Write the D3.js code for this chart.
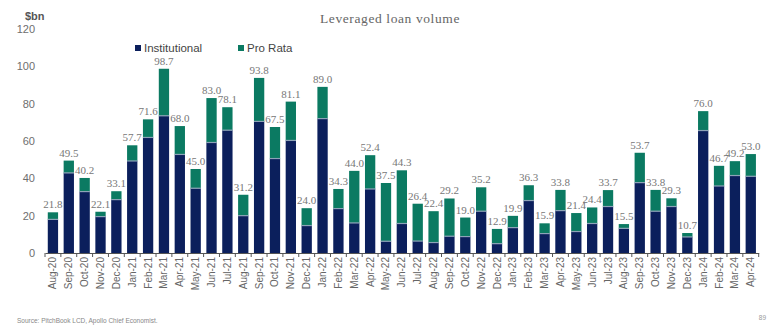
<!DOCTYPE html>
<html>
<head>
<meta charset="utf-8">
<script src="https://cdn.jsdelivr.net/npm/d3@7"></script>
<style>
    body { margin: 0; background: #ffffff; }
    svg { display: block; }
</style>
</head>
<body>
<div id="chart"></div>
<script>
// maanden en volumes ($bn)
var months = ["Aug-20", "Sep-20", "Oct-20", "Nov-20", "Dec-20",
    "Jan-21", "Feb-21", "Mar-21", "Apr-21", "May-21", "Jun-21", "Jul-21", "Aug-21", "Sep-21", "Oct-21", "Nov-21", "Dec-21",
    "Jan-22", "Feb-22", "Mar-22", "Apr-22", "May-22", "Jun-22", "Jul-22", "Aug-22", "Sep-22", "Oct-22", "Nov-22", "Dec-22",
    "Jan-23", "Feb-23", "Mar-23", "Apr-23", "May-23", "Jun-23", "Jul-23", "Aug-23", "Sep-23", "Oct-23", "Nov-23", "Dec-23",
    "Jan-24", "Feb-24", "Mar-24", "Apr-24"];

var totals = [21.8, 49.5, 40.2, 22.1, 33.1,
    57.7, 71.6, 98.7, 68.0, 45.0, 83.0, 78.1, 31.2, 93.8, 67.5, 81.1, 24.0,
    89.0, 34.3, 44.0, 52.4, 37.5, 44.3, 26.4, 22.4, 29.2, 19.0, 35.2, 12.9,
    19.9, 36.3, 15.9, 33.8, 21.4, 24.4, 33.7, 15.5, 53.7, 33.8, 29.3, 10.7,
    76.0, 46.7, 49.2, 53.0];

var institutional = [18.0, 42.9, 32.9, 19.5, 28.6,
    49.3, 61.9, 73.5, 52.8, 34.7, 59.2, 65.8, 20.0, 70.5, 50.6, 60.3, 14.7,
    72.0, 23.8, 16.1, 34.3, 6.3, 15.8, 6.4, 5.6, 9.0, 8.8, 22.4, 5.0,
    13.6, 28.1, 10.4, 22.7, 11.5, 15.8, 24.9, 13.2, 37.7, 22.4, 24.9, 8.6,
    65.6, 35.9, 41.5, 41.1];

var yTicks = [0, 20, 40, 60, 80, 100, 120];

var width = 771;
var height = 331;

var navy = "#0b1f5c";
var teal = "#0b7a62";

var svg = d3.select("#chart")
    .append("svg")
    .attr("width", width)
    .attr("height", height);

var x = d3.scaleBand()
    .domain(months)
    .range([45, 758.7])
    .paddingInner(0.35)
    .paddingOuter(0.175);

var y = d3.scaleLinear()
    .domain([0, 120])
    .range([253, 29]);

// titel en eenheid
svg.append("text")
    .attr("x", 390)
    .attr("y", 23)
    .attr("text-anchor", "middle")
    .style("font-family", "Liberation Serif, Times New Roman, serif")
    .style("font-size", "13.5px")
    .style("letter-spacing", "0.6px")
    .style("fill", "#666")
    .text("Leveraged loan volume");

svg.append("text")
    .attr("x", 25)
    .attr("y", 20)
    .style("font-family", "Liberation Sans, Arial, sans-serif")
    .style("font-size", "11px")
    .style("font-weight", "bold")
    .style("fill", "#555")
    .text("$bn");

// y-as labels
svg.append("g")
    .selectAll("text")
    .data(yTicks)
    .enter()
    .append("text")
    .attr("x", 35)
    .attr("y", function (d) { return y(d) + 4; })
    .attr("text-anchor", "end")
    .style("font-family", "Liberation Sans, Arial, sans-serif")
    .style("font-size", "11px")
    .style("fill", "#6e6e6e")
    .text(function (d) { return d; });

// gestapelde staven
var bars = svg.append("g");

bars.selectAll(".inst")
    .data(months)
    .enter()
    .append("rect")
    .attr("class", "inst")
    .attr("x", function (d) { return x(d); })
    .attr("width", x.bandwidth())
    .attr("y", function (d, i) { return y(institutional[i]); })
    .attr("height", function (d, i) { return y(0) - y(institutional[i]); })
    .style("fill", navy);

bars.selectAll(".pro")
    .data(months)
    .enter()
    .append("rect")
    .attr("class", "pro")
    .attr("x", function (d) { return x(d); })
    .attr("width", x.bandwidth())
    .attr("y", function (d, i) { return y(totals[i]); })
    .attr("height", function (d, i) { return y(institutional[i]) - y(totals[i]); })
    .style("fill", teal);

// dunne scheidingslijn tussen de segmenten
bars.selectAll(".sep")
    .data(months)
    .enter()
    .append("line")
    .attr("class", "sep")
    .attr("x1", function (d) { return x(d); })
    .attr("x2", function (d) { return x(d) + x.bandwidth(); })
    .attr("y1", function (d, i) { return y(institutional[i]); })
    .attr("y2", function (d, i) { return y(institutional[i]); })
    .style("stroke", "#8da3b8")
    .style("stroke-width", 1.2);

// waardelabels boven de staven
svg.append("g")
    .selectAll("text")
    .data(months)
    .enter()
    .append("text")
    .attr("x", function (d) { return x(d) + x.bandwidth() / 2; })
    .attr("y", function (d, i) { return y(totals[i]) - 4; })
    .attr("text-anchor", "middle")
    .style("font-family", "Liberation Serif, Times New Roman, serif")
    .style("font-size", "11px")
    .style("fill", "#777")
    .text(function (d, i) { return d3.format(".1f")(totals[i]); });

// x-as
var xAxis = svg.append("g")
    .attr("transform", "translate(0," + y(0) + ")")
    .call(d3.axisBottom(x).tickSize(0).tickSizeOuter(0));

xAxis.select(".domain")
    .style("stroke", "#555");

xAxis.selectAll("text")
    .attr("transform", "rotate(-90)")
    .attr("x", -4)
    .attr("y", 0)
    .attr("dy", "0.35em")
    .style("text-anchor", "end")
    .style("font-family", "Liberation Sans, Arial, sans-serif")
    .style("font-size", "10px")
    .style("fill", "#666");

// tick streepjes tussen de maanden
var step = x.step();
var boundaries = d3.range(months.length + 1).map(function (i) {
    return x(months[0]) - step * x.paddingInner() / 2 + i * step;
});

xAxis.selectAll(".sep-tick")
    .data(boundaries)
    .enter()
    .append("line")
    .attr("class", "sep-tick")
    .attr("x1", function (d) { return d; })
    .attr("x2", function (d) { return d; })
    .attr("y1", 0)
    .attr("y2", 4)
    .style("stroke", "#555");

// legenda
var legend = svg.append("g");
var legendItems = [
    { name: "Institutional", color: navy, x: 135 },
    { name: "Pro Rata", color: teal, x: 238 }
];

legend.selectAll("rect")
    .data(legendItems)
    .enter()
    .append("rect")
    .attr("x", function (d) { return d.x; })
    .attr("y", 45)
    .attr("width", 6)
    .attr("height", 6)
    .style("fill", function (d) { return d.color; });

legend.selectAll("text")
    .data(legendItems)
    .enter()
    .append("text")
    .attr("x", function (d) { return d.x + 9; })
    .attr("y", 52)
    .style("font-family", "Liberation Sans, Arial, sans-serif")
    .style("font-size", "11.5px")
    .style("fill", "#444")
    .text(function (d) { return d.name; });

// bron en paginanummer
svg.append("text")
    .attr("x", 17)
    .attr("y", 323)
    .style("font-family", "Liberation Sans, Arial, sans-serif")
    .style("font-size", "6.5px")
    .style("fill", "#888")
    .text("Source: PitchBook LCD, Apollo Chief Economist.");

svg.append("text")
    .attr("x", 766)
    .attr("y", 320)
    .attr("text-anchor", "end")
    .style("font-family", "Liberation Sans, Arial, sans-serif")
    .style("font-size", "6.5px")
    .style("fill", "#999")
    .text("89");
</script>
</body>
</html>
